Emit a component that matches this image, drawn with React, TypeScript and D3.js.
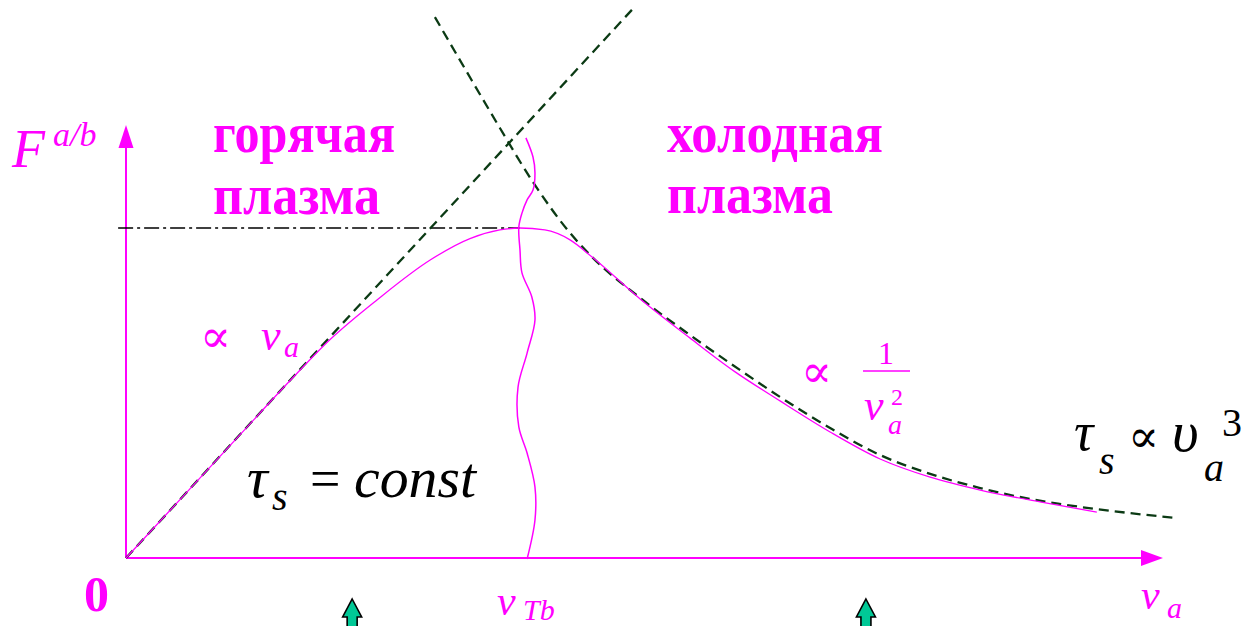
import React, { useEffect, useRef } from "react";
import * as d3 from "d3";

// Velocity in units of the thermal speed v_Tb, force in units of its maximum.
const forceCurve: [number, number][] = [
  [0, 0], [0.137, 0.177], [0.289, 0.373], [0.416, 0.537], [0.518, 0.662],
  [0.637, 0.782], [0.772, 0.903], [0.873, 0.968], [0.949, 0.994], [1.0, 1.0],
  [1.063, 0.994], [1.127, 0.964], [1.183, 0.912], [1.305, 0.785], [1.431, 0.667],
  [1.546, 0.564], [1.66, 0.476], [1.787, 0.382], [1.914, 0.3], [2.041, 0.245],
  [2.168, 0.206], [2.32, 0.17], [2.464, 0.139],
];

// Hot-plasma asymptote F ∝ v_a (straight line through the origin)
const hotAsymptote: [number, number][] = [[0, 0], [1.284, 1.661]];

// Cold-plasma asymptote F ∝ 1/v_a^2
const coldAsymptote: [number, number][] = [
  [0.784, 1.639], [0.865, 1.473], [0.949, 1.303], [1.033, 1.139], [1.127, 0.985],
  [1.183, 0.912], [1.305, 0.788], [1.431, 0.676], [1.558, 0.57], [1.66, 0.488],
  [1.787, 0.394], [1.914, 0.312], [2.041, 0.255], [2.168, 0.212], [2.294, 0.179],
  [2.421, 0.155], [2.548, 0.136], [2.67, 0.121],
];

// Wavy boundary between hot and cold regimes at v_a = v_Tb
const boundaryLine: [number, number][] = [
  [1.015, 1.273], [1.033, 1.215], [1.038, 1.167], [1.033, 1.115], [1.018, 1.085],
  [1.005, 1.045], [0.997, 1.003], [1.0, 0.933], [1.005, 0.864], [1.03, 0.791],
  [1.038, 0.721], [1.018, 0.621], [0.995, 0.518], [0.997, 0.397], [1.018, 0.318],
  [1.038, 0.215], [1.038, 0.115], [1.018, -0.003],
];

// Peak level marker
const peakLevel: [number, number][] = [[-0.02, 1.0], [1.0, 1.0]];

// Axis extents
const xAxisMax = 2.632;
const yAxisMax = 1.312;

// Positions marked by arrows beneath the velocity axis
const markerVelocities = [0.574, 1.878];

const MAGENTA = "#ff00ff";
const DASH_GREEN = "#0b3a14";
const ARROW_FILL = "#00c896";

const W = 1254;
const H = 626;

const SERIF = "Liberation Serif";
const SYM = "DejaVu Serif";

type Label = {
  x: number;
  y: number;
  s: string;
  size: number;
  fam?: string;
  it?: boolean;
  b?: boolean;
  len?: number;
  anchor?: string;
  fill: string;
};

export default function App() {
  const ref = useRef<SVGSVGElement | null>(null);

  useEffect(() => {
    const svg = d3.select(ref.current);
    svg.selectAll("*").remove();

    const x = d3.scaleLinear().domain([0, 1]).range([126, 520]);
    const y = d3.scaleLinear().domain([0, 1]).range([558, 228]);

    const monotone = d3
      .line<[number, number]>()
      .x((d) => x(d[0]))
      .y((d) => y(d[1]))
      .curve(d3.curveMonotoneX);
    const smooth = d3
      .line<[number, number]>()
      .x((d) => x(d[0]))
      .y((d) => y(d[1]))
      .curve(d3.curveCatmullRom.alpha(0.5));
    const straight = d3
      .line<[number, number]>()
      .x((d) => x(d[0]))
      .y((d) => y(d[1]));

    const x0 = x(0);
    const y0 = y(0);
    const xEnd = x(xAxisMax);
    const yEnd = y(yAxisMax);

    svg.append("rect").attr("width", W).attr("height", H).attr("fill", "#fff");

    // axes
    svg.append("line")
      .attr("x1", x0).attr("y1", y0).attr("x2", xEnd - 14).attr("y2", y0)
      .attr("stroke", MAGENTA).attr("stroke-width", 2);
    svg.append("path")
      .attr("d", `M${xEnd},${y0} L${xEnd - 22},${y0 - 8} L${xEnd - 22},${y0 + 8} Z`)
      .attr("fill", MAGENTA);
    svg.append("line")
      .attr("x1", x0).attr("y1", y0).attr("x2", x0).attr("y2", yEnd + 14)
      .attr("stroke", MAGENTA).attr("stroke-width", 2);
    svg.append("path")
      .attr("d", `M${x0},${yEnd} L${x0 - 7.5},${yEnd + 23} L${x0 + 7.5},${yEnd + 23} Z`)
      .attr("fill", MAGENTA);

    // peak level
    svg.append("path")
      .attr("d", straight(peakLevel) || "")
      .attr("fill", "none").attr("stroke", "#000").attr("stroke-width", 1.6)
      .attr("stroke-dasharray", "15 4 3 4");

    // asymptotes
    svg.append("path")
      .attr("d", straight(hotAsymptote) || "")
      .attr("fill", "none").attr("stroke", DASH_GREEN).attr("stroke-width", 2.3)
      .attr("stroke-dasharray", "10 6");
    svg.append("path")
      .attr("d", monotone(coldAsymptote) || "")
      .attr("fill", "none").attr("stroke", DASH_GREEN).attr("stroke-width", 2.3)
      .attr("stroke-dasharray", "10 6");

    // friction force curve
    svg.append("path")
      .attr("d", monotone(forceCurve) || "")
      .attr("fill", "none").attr("stroke", MAGENTA).attr("stroke-width", 1.3);

    // regime boundary
    svg.append("path")
      .attr("d", smooth(boundaryLine) || "")
      .attr("fill", "none").attr("stroke", MAGENTA).attr("stroke-width", 1.5);

    // fraction bar of 1/v_a^2
    svg.append("line")
      .attr("x1", 863).attr("y1", 371).attr("x2", 910).attr("y2", 371)
      .attr("stroke", MAGENTA).attr("stroke-width", 1.6);

    const labels: Label[] = [
      { x: 213, y: 152, s: "горячая", size: 56, b: true, len: 182, fill: MAGENTA },
      { x: 213, y: 214, s: "плазма", size: 56, b: true, len: 167, fill: MAGENTA },
      { x: 667, y: 152, s: "холодная", size: 56, b: true, len: 216, fill: MAGENTA },
      { x: 667, y: 213, s: "плазма", size: 56, b: true, len: 166, fill: MAGENTA },
      { x: 12, y: 167, s: "F", size: 54, it: true, fill: MAGENTA },
      { x: 53, y: 146, s: "a/b", size: 34, it: true, fill: MAGENTA },
      { x: x(1) - 23, y: 615, s: "v", size: 42, it: true, fill: MAGENTA },
      { x: x(1) + 3, y: 620, s: "Tb", size: 30, it: true, fill: MAGENTA },
      { x: xEnd - 22, y: 609, s: "v", size: 42, it: true, fill: MAGENTA },
      { x: xEnd + 4, y: 618, s: "a", size: 30, it: true, fill: MAGENTA },
      { x: 84, y: 611, s: "0", size: 50, b: true, fill: MAGENTA },
      { x: 200, y: 352, s: "∝", size: 46, fam: SYM, fill: MAGENTA },
      { x: 261, y: 350, s: "v", size: 44, it: true, fill: MAGENTA },
      { x: 284, y: 357, s: "a", size: 30, it: true, fill: MAGENTA },
      { x: 801, y: 387, s: "∝", size: 46, fam: SYM, fill: MAGENTA },
      { x: 886, y: 364, s: "1", size: 32, anchor: "middle", fill: MAGENTA },
      { x: 864, y: 420, s: "v", size: 44, it: true, fill: MAGENTA },
      { x: 891, y: 405, s: "2", size: 24, fill: MAGENTA },
      { x: 888, y: 434, s: "a", size: 28, it: true, fill: MAGENTA },
      { x: 247, y: 497, s: "τ", size: 58, it: true, fill: "#000" },
      { x: 272, y: 510, s: "s", size: 40, it: true, fill: "#000" },
      { x: 310, y: 497, s: "=", size: 54, fill: "#000" },
      { x: 354, y: 497, s: "const", size: 58, it: true, len: 122, fill: "#000" },
      { x: 1074, y: 450, s: "τ", size: 54, it: true, fill: "#000" },
      { x: 1099, y: 474, s: "s", size: 40, it: true, fill: "#000" },
      { x: 1128, y: 452, s: "∝", size: 46, fam: SYM, fill: "#000" },
      { x: 1172, y: 451, s: "υ", size: 58, it: true, fill: "#000" },
      { x: 1204, y: 481, s: "a", size: 40, it: true, fill: "#000" },
      { x: 1222, y: 436, s: "3", size: 40, fill: "#000" },
    ];

    labels.forEach((l) => {
      const t = svg.append("text")
        .attr("x", l.x)
        .attr("y", l.y)
        .attr("fill", l.fill)
        .style("font-family", `"${l.fam || SERIF}", serif`)
        .style("font-size", `${l.size}px`)
        .style("font-style", l.it ? "italic" : "normal")
        .style("font-weight", l.b ? "700" : "400")
        .attr("text-anchor", l.anchor || "start")
        .text(l.s);
      if (l.len) t.attr("textLength", l.len).attr("lengthAdjust", "spacingAndGlyphs");
    });

    // arrows below the velocity axis
    markerVelocities.forEach((v) => {
      const cx = x(v);
      const tip = 599;
      const base = 617;
      svg.append("path")
        .attr(
          "d",
          `M${cx},${tip} L${cx + 9.5},${base} L${cx + 5},${base} L${cx + 5},${H + 4} L${cx - 5},${H + 4} L${cx - 5},${base} L${cx - 9.5},${base} Z`
        )
        .attr("fill", ARROW_FILL)
        .attr("stroke", "#000")
        .attr("stroke-width", 1.6);
    });
  }, []);

  return (
    <div style={{ position: "absolute", left: 0, top: 0 }}>
      <svg ref={ref} width={W} height={H} style={{ display: "block" }} />
    </div>
  );
}
